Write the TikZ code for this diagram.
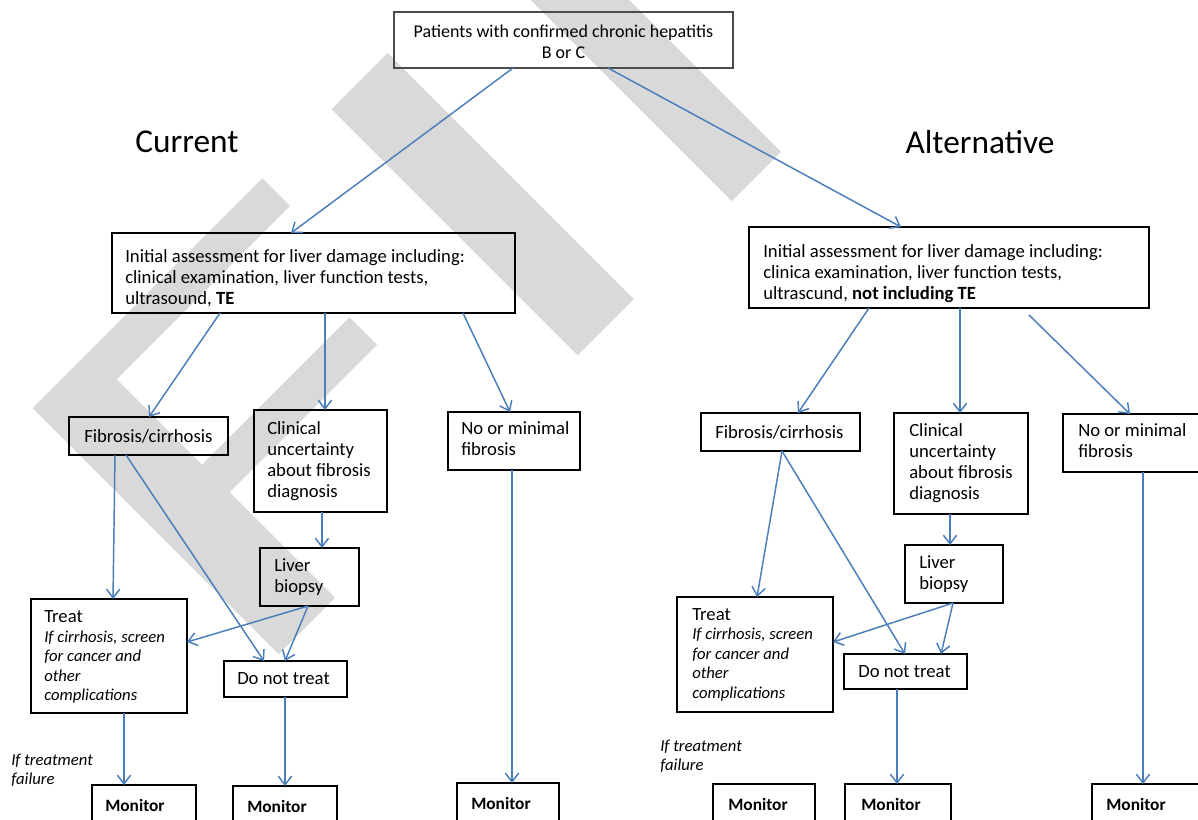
\documentclass[tikz,border=0pt]{standalone}
\usepackage{fontspec}
\setmainfont{Carlito}
\usetikzlibrary{arrows.meta,calc}
\definecolor{lineblue}{RGB}{74,126,187}
\definecolor{wmgray}{RGB}{217,217,217}
\begin{document}
\begin{tikzpicture}[x=0.75pt,y=-0.75pt,
  box/.style={draw=black, line width=1.3pt, rectangle, inner sep=0pt, outer sep=0pt},
  txt/.style={anchor=west, align=left, inner sep=0pt, font=\fontsize{14}{15.75}\selectfont},
  treattxt/.style={anchor=west, align=left, inner sep=0pt, font=\fontsize{14}{14.6}\selectfont},
  montxt/.style={anchor=west, inner sep=0pt, font=\fontsize{13}{15}\selectfont\bfseries},
  arr/.style={draw=lineblue, line width=1.1pt, -{Straight Barb[length=6.5pt,width=10pt]}},
  head/.style={font=\fontsize{25}{30}\selectfont, inner sep=0pt},
  note/.style={anchor=west, align=left, inner sep=0pt, font=\fontsize{12.5}{14.2}\selectfont\itshape},
  wm/.style={text=wmgray, font=\fontsize{407}{407}\selectfont, inner sep=0pt}
]
\fill[white] (0,0) rectangle (1198,819);
\clip (0,0) rectangle (1198,819);

% watermark
\node[wm, anchor=base west, rotate=45, xscale=1.65] (wmark) at (236,698) {FINAL};

% top
\node[box, draw=black!70, line width=1pt, minimum width=254.25pt, minimum height=42pt] (top) at (563.5,40) {};
\node[inner sep=0pt, align=center, font=\fontsize{13.5}{15.5}\selectfont] (topt) at ($(top.center)+(0,2)$) {Patients with confirmed chronic hepatitis\\ B or C};

\node[head] (cur) at (187,142) {Current};
\node[head] (alt) at (980,142) {Alternative};

% ---------- Current ----------
\node[box, minimum width=302.25pt, minimum height=60pt] (ini1) at (313.5,273) {};
\node[txt] (ini1t) at ($(ini1.west)+(13,5)$) {Initial assessment for liver damage including:\\ clinical examination, liver function tests,\\ ultrasound, \textbf{TE}};
\node[box, minimum width=119.25pt, minimum height=28.5pt] (fib1) at (148.5,436) {};
\node[txt] (fib1t) at ($(fib1.west)+(15,0)$) {Fibrosis/cirrhosis};
\node[box, minimum width=99.75pt, minimum height=76.5pt] (unc1) at (320.5,461) {};
\node[txt] (unc1t) at ($(unc1.west)+(13,0)$) {Clinical\\ uncertainty\\ about fibrosis\\ diagnosis};
\node[box, minimum width=99pt, minimum height=43.5pt] (nom1) at (514,441) {};
\node[txt] (nom1t) at ($(nom1.west)+(13,-2)$) {No or minimal\\ fibrosis};
\node[box, minimum width=74.25pt, minimum height=43.5pt] (bio1) at (309.5,577) {};
\node[txt] (bio1t) at ($(bio1.west)+(14,0)$) {Liver\\ biopsy};
\node[box, minimum width=117pt, minimum height=85.5pt] (trt1) at (109,656) {};
\node[treattxt] (trt1t) at ($(trt1.west)+(13,1)$) {Treat\\ \fontsize{12.5}{14.6}\selectfont\itshape If cirrhosis, screen\\ \fontsize{12.5}{14.6}\selectfont\itshape for cancer and\\ \fontsize{12.5}{14.6}\selectfont\itshape other\\ \fontsize{12.5}{14.6}\selectfont\itshape complications};
\node[box, minimum width=92.25pt, minimum height=27pt] (dnt1) at (285.5,679) {};
\node[txt] (dnt1t) at ($(dnt1.west)+(13,0)$) {Do not treat};
\node[box, minimum width=78pt, minimum height=30pt] (mon1a) at (144,805) {};
\node[montxt] (mon1at) at ($(mon1a.west)+(13,0)$) {Monitor};
\node[box, minimum width=78pt, minimum height=30pt] (mon1b) at (285,806) {};
\node[montxt] (mon1bt) at ($(mon1b.west)+(14,0)$) {Monitor};
\node[box, minimum width=76.5pt, minimum height=30pt] (mon1c) at (508,803) {};
\node[montxt] (mon1ct) at ($(mon1c.west)+(14,0)$) {Monitor};
\node[note] (fail1) at (11,770) {If treatment\\ failure};

% ---------- Alternative ----------
\node[box, minimum width=300pt, minimum height=60.75pt] (ini2) at (949,267.5) {};
\node[txt] (ini2t) at ($(ini2.west)+(14,6)$) {Initial assessment for liver damage including:\\ clinica examination, liver function tests,\\ ultrascund, \textbf{not including TE}};
\node[box, minimum width=119.25pt, minimum height=28.5pt] (fib2) at (780.5,432) {};
\node[txt] (fib2t) at ($(fib2.west)+(14,0)$) {Fibrosis/cirrhosis};
\node[box, minimum width=100.5pt, minimum height=75.75pt] (unc2) at (961,463.5) {};
\node[txt] (unc2t) at ($(unc2.west)+(15,0)$) {Clinical\\ uncertainty\\ about fibrosis\\ diagnosis};
\node[box, minimum width=105pt, minimum height=43.5pt] (nom2) at (1133,443) {};
\node[txt] (nom2t) at ($(nom2.west)+(15,-2)$) {No or minimal\\ fibrosis};
\node[box, minimum width=73.5pt, minimum height=43.5pt] (bio2) at (954,574) {};
\node[txt] (bio2t) at ($(bio2.west)+(14,0)$) {Liver\\ biopsy};
\node[box, minimum width=117pt, minimum height=86.25pt] (trt2) at (755,654.5) {};
\node[treattxt] (trt2t) at ($(trt2.west)+(15,0)$) {Treat\\ \fontsize{12.5}{14.6}\selectfont\itshape If cirrhosis, screen\\ \fontsize{12.5}{14.6}\selectfont\itshape for cancer and\\ \fontsize{12.5}{14.6}\selectfont\itshape other\\ \fontsize{12.5}{14.6}\selectfont\itshape complications};
\node[box, minimum width=92.25pt, minimum height=26.25pt] (dnt2) at (905.5,671.5) {};
\node[txt] (dnt2t) at ($(dnt2.west)+(14,0)$) {Do not treat};
\node[box, minimum width=76.5pt, minimum height=30pt] (mon2a) at (764,804) {};
\node[montxt] (mon2at) at ($(mon2a.west)+(15,0)$) {Monitor};
\node[box, minimum width=79.5pt, minimum height=30pt] (mon2b) at (898,804) {};
\node[montxt] (mon2bt) at ($(mon2b.west)+(16,0)$) {Monitor};
\node[box, minimum width=90pt, minimum height=30pt] (mon2c) at (1152,804) {};
\node[montxt] (mon2ct) at ($(mon2c.west)+(14,0)$) {Monitor};
\node[note] (fail2) at (660,756) {If treatment\\ failure};

% ---------- connectors ----------
\draw[arr] ($(top.south west)+(119,0)$) -- ($(ini1.north west)+(179,0)$);
\draw[arr] ($(top.south west)+(214,0)$) -- ($(ini2.north west)+(152,0)$);

\draw[arr] ($(ini1.south west)+(108,0)$) -- ($(fib1.north west)+(80,0)$);
\draw[arr] ($(ini1.south west)+(213,0)$) -- ($(unc1.north west)+(71,0)$);
\draw[arr] ($(ini1.south west)+(351,0)$) -- ($(nom1.north west)+(62,0)$);
\draw[arr] ($(fib1.south west)+(46,0)$) -- ($(trt1.north west)+(82,0)$);
\draw[arr] ($(fib1.south west)+(57,0)$) -- ($(dnt1.north west)+(40,0)$);
\draw[arr] ($(unc1.south west)+(68,0)$) -- ($(bio1.north west)+(62,0)$);
\draw[arr] ($(bio1.south west)+(48,0)$) -- ($(trt1.north east)+(0,43)$);
\draw[arr] ($(bio1.south west)+(48,0)$) -- ($(dnt1.north west)+(61,0)$);
\draw[arr] ($(trt1.south west)+(93,0)$) -- ($(mon1a.north west)+(32,0)$);
\draw[arr] ($(dnt1.south west)+(61,0)$) -- ($(mon1b.north west)+(52,0)$);
\draw[arr] ($(nom1.south west)+(64,0)$) -- ($(mon1c.north west)+(55,0)$);

\draw[arr] ($(ini2.south west)+(120,0)$) -- ($(fib2.north west)+(97,0)$);
\draw[arr] ($(ini2.south west)+(211,0)$) -- ($(unc2.north west)+(66,0)$);
\draw[arr] ($(ini2.south west)+(280,7)$) -- ($(nom2.north west)+(67,0)$);
\draw[arr] ($(fib2.south west)+(81,0)$) -- ($(trt2.north west)+(80,0)$);
\draw[arr] ($(fib2.south west)+(81,0)$) -- ($(dnt2.north west)+(61,0)$);
\draw[arr] ($(unc2.south west)+(56,0)$) -- ($(bio2.north west)+(45,0)$);
\draw[arr] ($(bio2.south west)+(48,0)$) -- ($(trt2.north east)+(0,45)$);
\draw[arr] ($(bio2.south west)+(48,0)$) -- ($(dnt2.north west)+(97,0)$);
\draw[arr] ($(dnt2.south west)+(53,0)$) -- ($(mon2b.north west)+(52,0)$);
\draw[arr] ($(nom2.south west)+(80,0)$) -- ($(mon2c.north west)+(51,0)$);
\end{tikzpicture}
\end{document}
